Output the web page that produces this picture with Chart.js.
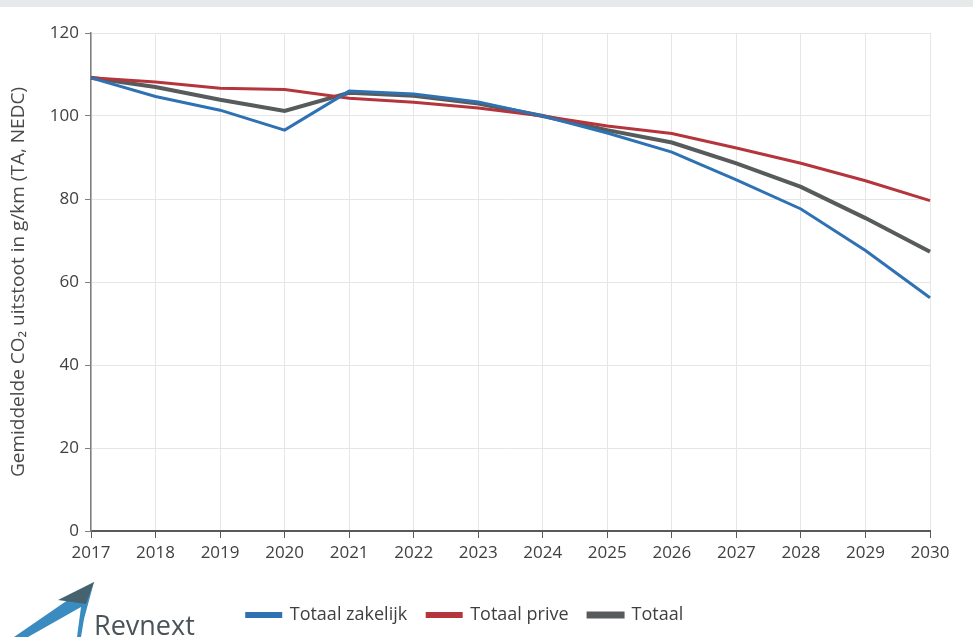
<!DOCTYPE html>
<html>
<head>
<meta charset="utf-8">
<script src="https://cdn.jsdelivr.net/npm/chart.js@4/dist/chart.umd.min.js"></script>
<style>
  html, body { margin: 0; padding: 0; background: #fff; }
  body { border-top: 7px solid #e6e8e9; box-sizing: border-box; width: 973px; height: 637px; }
  #wrap { position: relative; width: 973px; height: 630px; }
</style>
</head>
<body>
<div id="wrap"><canvas id="co2Chart"></canvas></div>
<script>
// years on x axis
var years = ['2017', '2018', '2019', '2020', '2021', '2022', '2023', '2024', '2025', '2026', '2027', '2028', '2029', '2030'];
// average CO2 g/km
var zakelijk = [109.2, 104.7, 101.4, 96.6, 106.0, 105.3, 103.4, 100.0, 95.9, 91.3, 84.6, 77.6, 67.6, 56.2];
var prive = [109.2, 108.2, 106.7, 106.4, 104.3, 103.3, 101.9, 100.0, 97.6, 95.8, 92.3, 88.6, 84.4, 79.6];
var totaal = [109.2, 107.0, 103.9, 101.2, 105.6, 104.9, 103.0, 100.0, 96.6, 93.6, 88.6, 82.9, 75.4, 67.3];
var yTicks = [0, 20, 40, 60, 80, 100, 120];

var font = "'Open Sans', 'Liberation Sans', sans-serif";

// little Revnext logo in the corner
var logoPlugin = {
    id: 'logo',
    afterDraw: function (chart) {
        var ctx = chart.ctx;
        ctx.save();
        ctx.fillStyle = '#3a8cc0';
        ctx.beginPath();
        ctx.moveTo(14, 630);
        ctx.lineTo(94, 575);
        ctx.lineTo(84, 612);
        ctx.lineTo(81, 630);
        ctx.lineTo(77, 630);
        ctx.lineTo(81, 600);
        ctx.lineTo(28, 630);
        ctx.closePath();
        ctx.fill();
        ctx.fillStyle = '#46626e';
        ctx.beginPath();
        ctx.moveTo(58, 593);
        ctx.lineTo(94, 575);
        ctx.lineTo(86, 597);
        ctx.closePath();
        ctx.fill();
        ctx.fillStyle = '#4a5458';
        ctx.font = "27px " + font;
        ctx.textBaseline = 'alphabetic';
        ctx.fillText('Revnext', 94, 628);
        ctx.restore();
    }
};

var ctx = document.getElementById('co2Chart').getContext('2d');
var co2Chart = new Chart(ctx, {
    type: 'line',
    data: {
        labels: years,
        datasets: [{
            label: 'Totaal zakelijk',
            data: zakelijk,
            borderColor: '#2f72b4',
            backgroundColor: '#2f72b4',
            borderWidth: 3
        }, {
            label: 'Totaal prive',
            data: prive,
            borderColor: '#b5353d',
            backgroundColor: '#b5353d',
            borderWidth: 3
        }, {
            label: 'Totaal',
            data: totaal,
            borderColor: '#575b5c',
            backgroundColor: '#575b5c',
            borderWidth: 4
        }]
    },
    options: {
        responsive: false,
        animation: false,
        maintainAspectRatio: false,
        elements: { point: { radius: 0 }, line: { tension: 0 } },
        layout: { padding: { top: 26, right: 43, left: 0, bottom: 3 } },
        plugins: {
            tooltip: { enabled: false },
            legend: {
                position: 'bottom',
                labels: {
                    font: { family: font, size: 18 },
                    color: '#3f3f3f',
                    boxWidth: 34,
                    boxHeight: 3,
                    padding: 20
                }
            }
        },
        scales: {
            x: {
                offset: false,
                grid: { color: '#e6e6e6', tickColor: '#595959', tickLength: 7 },
                border: { color: '#595959', width: 2 },
                ticks: { font: { family: font, size: 17 }, color: '#404040', padding: 5, maxRotation: 0 },
                afterFit: function (scale) { scale.height = 55; }
            },
            y: {
                min: 0,
                max: 120,
                afterBuildTicks: function (scale) {
                    scale.ticks = yTicks.map(function (v) { return { value: v }; });
                },
                grid: { color: '#e6e6e6', tickColor: '#7f7f7f', tickLength: 6 },
                border: { color: '#7f7f7f', width: 1.5 },
                ticks: { font: { family: font, size: 17 }, color: '#404040', padding: 6 },
                title: {
                    display: true,
                    text: 'Gemiddelde CO\u2082 uitstoot in g/km (TA, NEDC)',
                    font: { family: font, size: 19 },
                    color: '#4a4a4a',
                    padding: { top: 7, bottom: 2 }
                },
                afterFit: function (scale) { scale.width = 91; }
            }
        }
    },
    plugins: [logoPlugin]
});
co2Chart.canvas.style.width = '973px';
co2Chart.resize(973, 630);
</script>
</body>
</html>
